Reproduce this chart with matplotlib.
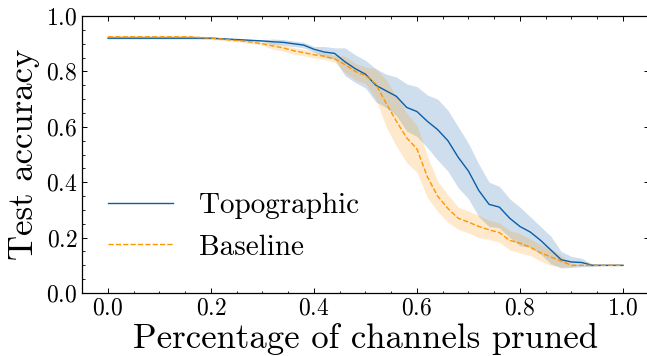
"""
通道剪枝后的测试准确率曲线：Topographic 与 Baseline 对比（均值 ± 标准差阴影）。
"""
from __future__ import annotations

import matplotlib

matplotlib.use("Agg")
import matplotlib.pyplot as plt
import numpy as np
from matplotlib.ticker import AutoMinorLocator

# 剪枝比例，步长 0.02
pruned = [round(0.02 * i, 2) for i in range(51)]

topo_mean = [
    0.920, 0.920, 0.920, 0.920, 0.920, 0.920, 0.920, 0.920, 0.920, 0.920,
    0.920, 0.918, 0.916, 0.914, 0.912, 0.910, 0.907, 0.905, 0.900, 0.895,
    0.880, 0.870, 0.865, 0.835, 0.810, 0.790, 0.750, 0.730, 0.710, 0.670,
    0.655, 0.620, 0.590, 0.550, 0.490, 0.440, 0.370, 0.320, 0.310, 0.270,
    0.240, 0.220, 0.190, 0.155, 0.120, 0.112, 0.110, 0.100, 0.100, 0.100,
    0.100,
]
topo_std = [
    0.003, 0.003, 0.003, 0.003, 0.003, 0.003, 0.003, 0.003, 0.003, 0.003,
    0.003, 0.003, 0.003, 0.003, 0.003, 0.003, 0.010, 0.010, 0.010, 0.010,
    0.010, 0.020, 0.020, 0.050, 0.050, 0.050, 0.060, 0.060, 0.070, 0.085,
    0.090, 0.095, 0.110, 0.110, 0.110, 0.100, 0.095, 0.080, 0.075, 0.070,
    0.070, 0.055, 0.050, 0.050, 0.030, 0.020, 0.015, 0.005, 0.002, 0.002,
    0.002,
]

base_mean = [
    0.925, 0.925, 0.925, 0.925, 0.925, 0.925, 0.925, 0.925, 0.925, 0.922,
    0.920, 0.917, 0.913, 0.910, 0.905, 0.900, 0.892, 0.885, 0.875, 0.868,
    0.860, 0.855, 0.845, 0.825, 0.800, 0.785, 0.755, 0.685, 0.620, 0.560,
    0.520, 0.420, 0.350, 0.305, 0.270, 0.256, 0.240, 0.228, 0.218, 0.190,
    0.180, 0.165, 0.145, 0.130, 0.115, 0.100, 0.100, 0.100, 0.100, 0.100,
    0.100,
]
base_std = [
    0.005, 0.005, 0.005, 0.005, 0.005, 0.005, 0.005, 0.005, 0.005, 0.005,
    0.005, 0.005, 0.005, 0.005, 0.005, 0.005, 0.012, 0.012, 0.012, 0.012,
    0.012, 0.012, 0.012, 0.030, 0.030, 0.030, 0.055, 0.085, 0.090, 0.090,
    0.085, 0.075, 0.055, 0.050, 0.040, 0.040, 0.040, 0.035, 0.035, 0.035,
    0.035, 0.030, 0.030, 0.030, 0.020, 0.005, 0.002, 0.002, 0.002, 0.002,
    0.002,
]

BLUE = "#0C5DA5"
ORANGE = "#FF9500"


def _style() -> None:
    plt.rcParams.update({
        "font.family": "serif",
        "font.serif": ["cmr10"],
        "mathtext.fontset": "cm",
        "axes.formatter.use_mathtext": True,
        "axes.linewidth": 0.9,
        "xtick.direction": "in",
        "ytick.direction": "in",
        "xtick.top": True,
        "ytick.right": True,
        "xtick.major.size": 3.5,
        "ytick.major.size": 3.5,
        "xtick.minor.size": 1.8,
        "ytick.minor.size": 1.8,
        "xtick.major.width": 0.7,
        "ytick.major.width": 0.7,
        "xtick.minor.width": 0.6,
        "ytick.minor.width": 0.6,
    })


def main() -> None:
    _style()
    x = np.array(pruned)
    tm, ts = np.array(topo_mean), np.array(topo_std)
    bm, bs = np.array(base_mean), np.array(base_std)

    fig = plt.figure(figsize=(6.47, 3.56), dpi=100)
    ax = fig.add_axes([0.1271, 0.177, 0.8756, 0.778])

    ax.plot(x, tm, color=BLUE, lw=1.0, label="Topographic")
    ax.fill_between(x, tm - ts, tm + ts, color=BLUE, alpha=0.2, lw=0)
    ax.plot(x, bm, color=ORANGE, lw=1.0, ls="--", label="Baseline")
    ax.fill_between(x, bm - bs, bm + bs, color=ORANGE, alpha=0.2, lw=0)

    ax.set_xlim(-0.05, 1.05)
    ax.set_ylim(0.0, 1.0)
    ax.set_xticks([0.0, 0.2, 0.4, 0.6, 0.8, 1.0])
    ax.set_yticks([0.0, 0.2, 0.4, 0.6, 0.8, 1.0])
    ax.xaxis.set_minor_locator(AutoMinorLocator())
    ax.yaxis.set_minor_locator(AutoMinorLocator())
    ax.tick_params(labelsize=17)

    ax.set_xlabel("Percentage of channels pruned", fontsize=25, labelpad=2)
    ax.set_ylabel("Test accuracy", fontsize=25, labelpad=4)

    ax.legend(loc="lower left", bbox_to_anchor=(0.0, 0.022), frameon=False,
              fontsize=21, handlelength=2.2, handletextpad=0.9,
              labelspacing=0.52)

    fig.savefig("out.png", dpi=100)


if __name__ == "__main__":
    main()
